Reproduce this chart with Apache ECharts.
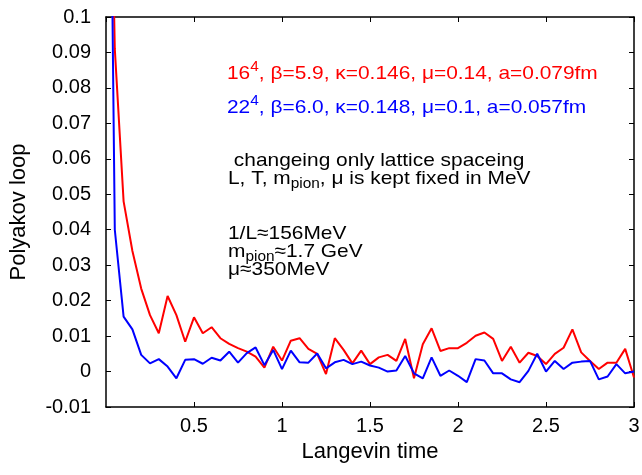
<!DOCTYPE html>
<html>
<head>
<meta charset="utf-8">
<title>Polyakov loop vs Langevin time</title>
<script src="https://cdn.jsdelivr.net/npm/echarts@6/dist/echarts.min.js"></script>
<style>
  html, body { margin: 0; padding: 0; background: #fff; }
  #chart { width: 642px; height: 475px; }
</style>
</head>
<body>
<div id="chart"></div>
<script>
// Langevin time of every measurement
var times = [
  0, 0.05, 0.1, 0.15, 0.2, 0.25, 0.3, 0.35, 0.4, 0.45,
  0.5, 0.55, 0.6, 0.65, 0.7, 0.75, 0.8, 0.85, 0.9, 0.95,
  1, 1.05, 1.1, 1.15, 1.2, 1.25, 1.3, 1.35, 1.4, 1.45,
  1.5, 1.55, 1.6, 1.65, 1.7, 1.75, 1.8, 1.85, 1.9, 1.95,
  2, 2.05, 2.1, 2.15, 2.2, 2.25, 2.3, 2.35, 2.4, 2.45,
  2.5, 2.55, 2.6, 2.65, 2.7, 2.75, 2.8, 2.85, 2.9, 2.95,
  3
];

// 16^4, beta=5.9 (red)
var loop16 = [
  0.22, 0.091, 0.048, 0.034, 0.0234, 0.0159, 0.0108, 0.0213, 0.0159, 0.0084,
  0.0153, 0.0108, 0.0125, 0.0094, 0.0078, 0.0066, 0.0056, 0.0042, 0.0011, 0.0070,
  0.0031, 0.0087, 0.0094, 0.0064, 0.0050, -0.0007, 0.0094, 0.0061, 0.0023, 0.0059,
  0.0021, 0.0040, 0.0047, 0.0030, 0.0092, -0.0019, 0.0077, 0.0122, 0.0058, 0.0066,
  0.0066, 0.0081, 0.0101, 0.0110, 0.0092, 0.0030, 0.0070, 0.0025, 0.0053, 0.0044,
  0.0021, 0.0050, 0.0067, 0.0119, 0.0054, 0.0030, 0.0007, 0.0025, 0.0025, 0.0064,
  -0.0017
];

// 22^4, beta=6.0 (blue)
var loop22 = [
  0.27, 0.040, 0.0155, 0.0119, 0.0047, 0.0023, 0.0035, 0.0014, -0.0019, 0.0033,
  0.0035, 0.0022, 0.0039, 0.0031, 0.0056, 0.0025, 0.0052, 0.0068, 0.0018, 0.0061,
  0.0007, 0.0059, 0.0026, 0.0025, 0.0051, 0.0009, 0.0026, 0.0033, 0.0021, 0.0028,
  0.0017, 0.0011, 0.0000, 0.0003, 0.0044, -0.0005, -0.0019, 0.0040, -0.0012, 0.0003,
  -0.0012, -0.0030, 0.0035, 0.0031, -0.0005, -0.0005, -0.0022, -0.0030, 0.0002, 0.0050,
  0.0000, 0.0030, 0.0007, 0.0025, 0.0028, 0.0030, -0.0022, -0.0014, 0.0021, -0.0005,
  0.0000
];

var FONT = '"Liberation Sans", Arial, Helvetica, sans-serif';

function pairs(vals) {
  return times.map(function (t, i) { return [t, vals[i]]; });
}

// gnuplot style frame: ticks inside on all four sides
function xAxisCfg(pos, labels) {
  return {
    type: 'value', position: pos, min: 0, max: 3, interval: 0.5,
    name: labels ? 'Langevin time' : '',
    nameLocation: 'middle', nameGap: 28,
    nameTextStyle: { fontFamily: FONT, fontSize: 22, color: '#000' },
    axisLine: { show: true, onZero: false, lineStyle: { color: '#000', width: 1.5 } },
    axisTick: { show: true, inside: true, length: 5, lineStyle: { color: '#000', width: 1 } },
    axisLabel: {
      show: labels, showMinLabel: false, margin: 9,
      fontFamily: FONT, fontSize: 20, color: '#000',
      formatter: function (v) { return String(+v.toFixed(1)); }
    },
    splitLine: { show: false }
  };
}

function yAxisCfg(pos, labels) {
  return {
    type: 'value', position: pos, min: -0.01, max: 0.1, interval: 0.01,
    name: labels ? 'Polyakov loop' : '',
    nameLocation: 'middle', nameGap: 76, nameRotate: 90,
    nameTextStyle: { fontFamily: FONT, fontSize: 22, color: '#000' },
    axisLine: { show: true, onZero: false, lineStyle: { color: '#000', width: 1.5 } },
    axisTick: { show: true, inside: true, length: 5, lineStyle: { color: '#000', width: 1 } },
    axisLabel: {
      show: labels, margin: 15,
      fontFamily: FONT, fontSize: 20, color: '#000',
      formatter: function (v) { return String(+v.toFixed(2)); }
    },
    splitLine: { show: false }
  };
}

// the labels in the reference are a bit wider than Arial, so stretch them
var rich = {
  t: { fontFamily: FONT, fontSize: 19, lineHeight: 28 },
  s: { fontFamily: FONT, fontSize: 14, lineHeight: 12, verticalAlign: 'top' },
  n: { fontFamily: FONT, fontSize: 19, lineHeight: 24 },
  b: { fontFamily: FONT, fontSize: 14, lineHeight: 10, verticalAlign: 'bottom' }
};

function note(x, y, text, color) {
  return {
    type: 'text', x: x, y: y, scaleX: 1.1, silent: true,
    style: { text: text, rich: rich, fill: color, align: 'left', verticalAlign: 'top' }
  };
}

var chart = echarts.init(document.getElementById('chart'), null, { renderer: 'canvas' });

chart.setOption({
  animation: false,
  backgroundColor: '#fff',
  grid: { left: 106, right: 8, top: 17, bottom: 68, outerBoundsMode: 'none' },
  xAxis: [xAxisCfg('bottom', true), xAxisCfg('top', false)],
  yAxis: [yAxisCfg('left', true), yAxisCfg('right', false)],
  series: [
    {
      name: '16^4', type: 'line', data: pairs(loop16), showSymbol: false,
      clip: true, lineStyle: { color: '#ff0000', width: 2 }, z: 3
    },
    {
      name: '22^4', type: 'line', data: pairs(loop22), showSymbol: false,
      clip: true, lineStyle: { color: '#0000ff', width: 2 }, z: 3
    }
  ],
  graphic: [
    note(227, 60, '{t|16}{s|4}{t|, β=5.9, κ=0.146, μ=0.14, a=0.079fm}', '#ff0000'),
    note(227, 94, '{t|22}{s|4}{t|, β=6.0, κ=0.148, μ=0.1, a=0.057fm}', '#0000ff'),
    note(228, 149, '{n| changeing only lattice spaceing}', '#000'),
    note(228, 167, '{n|L, T, m}{b|pion}{n|, μ is kept fixed in MeV}', '#000'),
    note(228, 222, '{n|1/L≈156MeV}', '#000'),
    note(228, 240, '{n|m}{b|pion}{n|≈1.7 GeV}', '#000'),
    note(228, 258, '{n|μ≈350MeV}', '#000')
  ]
});
</script>
</body>
</html>
